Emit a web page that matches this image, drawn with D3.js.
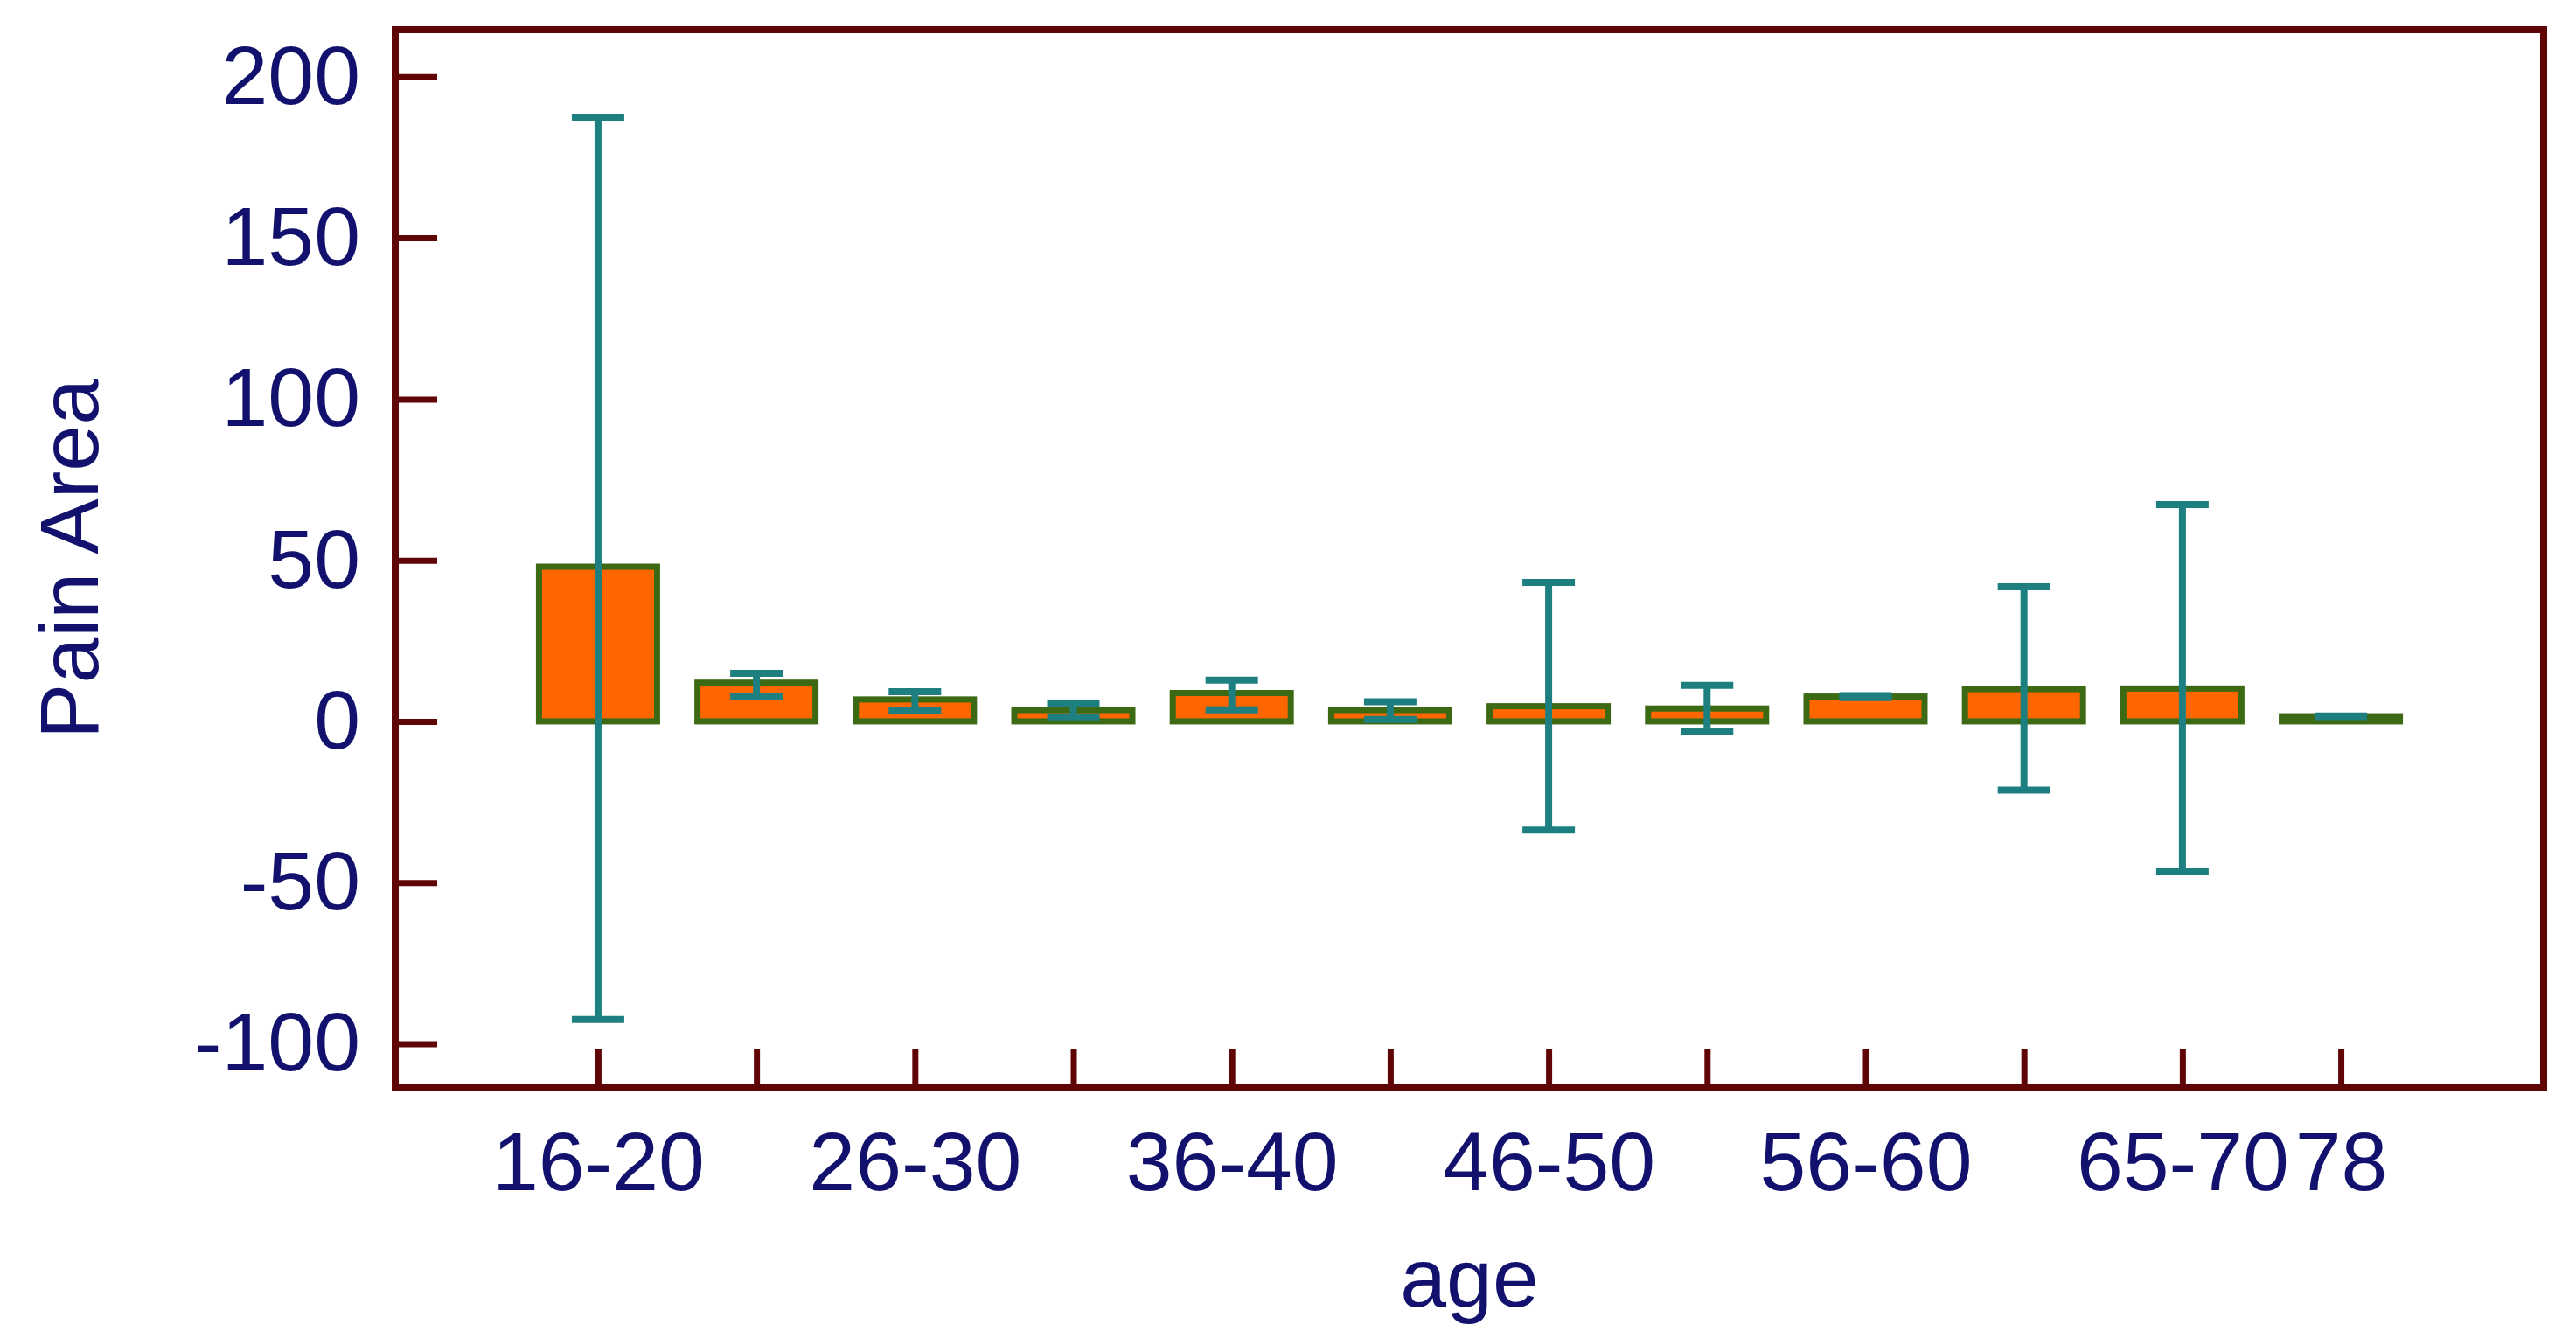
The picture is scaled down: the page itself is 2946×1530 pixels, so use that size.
<!DOCTYPE html>
<html>
<head>
<meta charset="utf-8">
<script src="https://cdn.jsdelivr.net/npm/d3@7"></script>
<style>
body { margin: 0; background: #fff; }
text { font-family: "Liberation Sans", Arial, sans-serif; }
</style>
</head>
<body>
<svg id="chart" width="2946" height="1530"></svg>
<script>
var categories = ["16-20","21-25","26-30","31-35","36-40","41-45","46-50","51-55","56-60","61-65","65-70","78"];
var shownLabels = ["16-20","26-30","36-40","46-50","56-60","65-70","78"];
var means = [48, 12, 6.8, 3.5, 8.8, 3.5, 4.7, 4, 7.7, 10, 10.2, 1.6];
var upper = [187.5, 14.9, 9.2, 5.4, 12.8, 6.1, 43.1, 11.2, 8.0, 41.8, 67.3, 1.7];
var lower = [-92.5, 7.6, 3.3, 1.4, 3.6, 0.6, -33.7, -3.3, 7.4, -21.3, -46.7, 1.5];
var yTicks = [-100, -50, 0, 50, 100, 150, 200];

var data = categories.map(function(c, i) {
	return {cat: c, mean: means[i], hi: upper[i], lo: lower[i]};
});

var W = 2946, H = 1530;
var margin = {top: 34, right: 37, bottom: 286, left: 452};
var frameColor = "#600505", textColor = "#12126e";

var svg = d3.select("#chart");

var x = d3.scalePoint()
	.domain(categories)
	.range([margin.left, W - margin.right])
	.padding(1.28);

var y = d3.scaleLinear()
	.domain([-113.7, 214.6])
	.range([H - margin.bottom, margin.top]);

var barW = 135, capW = 60;

// bars
svg.append("g").selectAll("rect")
	.data(data)
	.enter().append("rect")
	.attr("x", function(d) { return x(d.cat) - barW / 2; })
	.attr("y", function(d) { return y(Math.max(0, d.mean)); })
	.attr("width", barW)
	.attr("height", function(d) { return Math.abs(y(d.mean) - y(0)); })
	.style("fill", "#ff6600")
	.style("stroke", "#3c6a14")
	.style("stroke-width", 7);

// error bars
var eb = svg.append("g")
	.style("stroke", "#1d7f80")
	.style("stroke-width", 8)
	.selectAll("g")
	.data(data)
	.enter().append("g");

eb.append("line")
	.attr("x1", function(d) { return x(d.cat); })
	.attr("x2", function(d) { return x(d.cat); })
	.attr("y1", function(d) { return y(d.lo); })
	.attr("y2", function(d) { return y(d.hi); });
eb.append("line")
	.attr("x1", function(d) { return x(d.cat) - capW / 2; })
	.attr("x2", function(d) { return x(d.cat) + capW / 2; })
	.attr("y1", function(d) { return y(d.hi); })
	.attr("y2", function(d) { return y(d.hi); });
eb.append("line")
	.attr("x1", function(d) { return x(d.cat) - capW / 2; })
	.attr("x2", function(d) { return x(d.cat) + capW / 2; })
	.attr("y1", function(d) { return y(d.lo); })
	.attr("y2", function(d) { return y(d.lo); });

// axes
var yAxis = svg.append("g")
	.attr("transform", "translate(" + margin.left + ",0)")
	.call(d3.axisLeft(y).tickValues(yTicks).tickSizeInner(-48).tickSizeOuter(0).tickPadding(40)
		.tickFormat(function(d) { return String(d); }));

var xAxis = svg.append("g")
	.attr("transform", "translate(0," + (H - margin.bottom) + ")")
	.call(d3.axisBottom(x)
		.tickSizeInner(-45).tickSizeOuter(0).tickPadding(50)
		.tickFormat(function(d) { return shownLabels.indexOf(d) >= 0 ? d : ""; }));

[yAxis, xAxis].forEach(function(a) {
	a.select(".domain").remove();
	a.selectAll(".tick line").attr("stroke", frameColor).attr("stroke-width", 7);
	a.selectAll(".tick text")
		.attr("fill", textColor)
		.style("font-size", "95px")
		.style("font-family", "'Liberation Sans', Arial, sans-serif");
});

// frame
svg.append("rect")
	.attr("x", margin.left)
	.attr("y", margin.top)
	.attr("width", W - margin.left - margin.right)
	.attr("height", H - margin.top - margin.bottom)
	.style("fill", "none")
	.style("stroke", frameColor)
	.style("stroke-width", 8);

// axis titles
svg.append("text")
	.attr("x", (margin.left + W - margin.right) / 2)
	.attr("y", 1494)
	.attr("text-anchor", "middle")
	.attr("fill", textColor)
	.style("font-size", "95px")
	.text("age");

svg.append("text")
	.attr("transform", "translate(112," + ((margin.top + H - margin.bottom) / 2) + ") rotate(-90)")
	.attr("text-anchor", "middle")
	.attr("fill", textColor)
	.style("font-size", "95px")
	.text("Pain Area");
</script>
</body>
</html>
